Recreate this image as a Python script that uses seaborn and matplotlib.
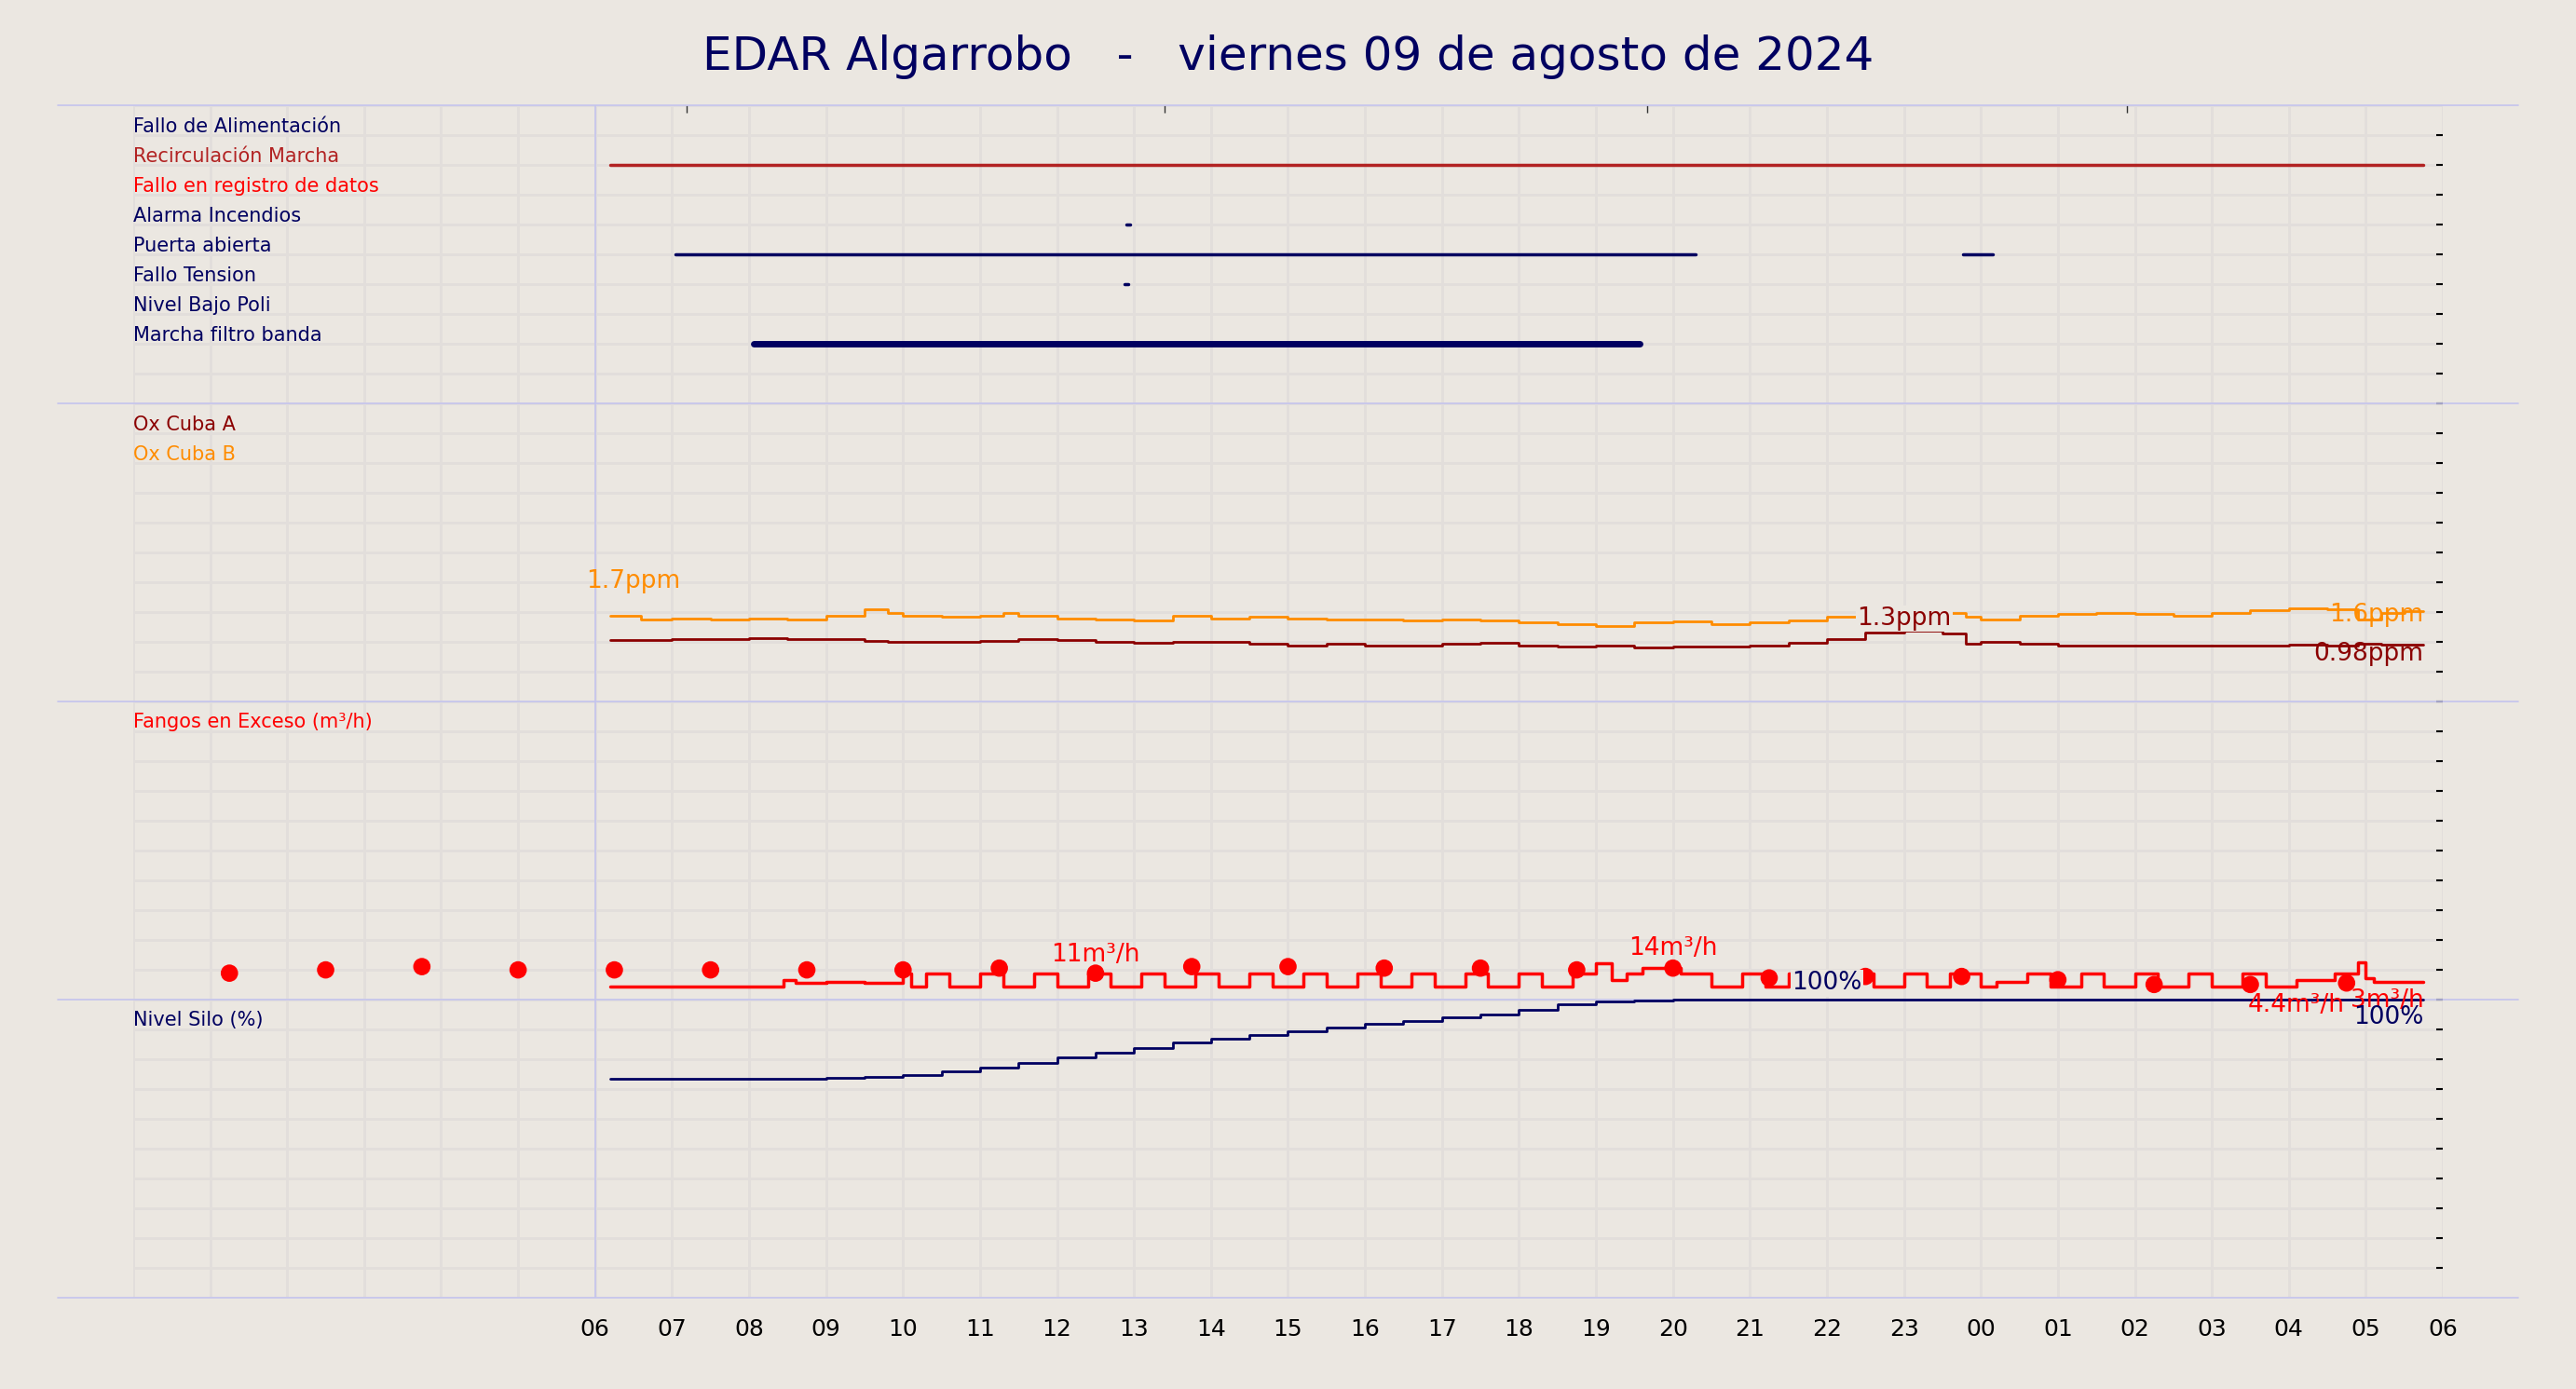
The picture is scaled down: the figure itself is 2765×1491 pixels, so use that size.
import matplotlib
matplotlib.use("Agg")
import matplotlib.pyplot as plt
import seaborn as sns
import pandas as pd

sns.set_theme(style="white")
plt.rcParams['font.family'] = ['DejaVu Sans']

BG = "#ebe7e1"
NAVY = "#000060"
SEP = "#c4c4ee"

title = "EDAR Algarrobo   -   viernes 09 de agosto de 2024"
hour_ticks = list(range(6, 31))
hour_labels = ["%02d" % (h % 24) for h in hour_ticks]

# Panel 1: digital signals
signal_names = ["Fallo de Alimentación", "Recirculación Marcha", "Fallo en registro de datos",
                "Alarma Incendios", "Puerta abierta", "Fallo Tension", "Nivel Bajo Poli",
                "Marcha filtro banda"]
signal_colors = [NAVY, "#b22222", "#ff0000", NAVY, NAVY, NAVY, NAVY, NAVY]
signal_rows = [39, 38, 37, 36, 35, 34, 33, 32]
signal_on = {
    "Recirculación Marcha": [(6.2, 29.75)],
    "Alarma Incendios": [(12.9, 12.95)],
    "Puerta abierta": [(7.04, 20.3), (23.77, 24.16)],
    "Fallo Tension": [(12.88, 12.92)],
    "Marcha filtro banda": [(8.06, 19.57)],
}

# Panel 2: oxygen (ppm)
ox_t = [6.2, 6.6, 7.0, 7.5, 8.0, 8.5, 9.0, 9.5, 9.8, 10.0, 10.5, 11.0, 11.3, 11.5, 12.0, 12.5, 13.0,
        13.5, 14.0, 14.5, 15.0, 15.5, 16.0, 16.5, 17.0, 17.5, 18.0, 18.5, 19.0, 19.5, 20.0, 20.5,
        21.0, 21.5, 22.0, 22.5, 23.0, 23.5, 23.8, 24.0, 24.5, 25.0, 25.5, 26.0, 26.5, 27.0, 27.5,
        28.0, 28.5, 28.9, 29.2, 29.5, 29.75]
ox_b = [1.51, 1.45, 1.47, 1.45, 1.47, 1.45, 1.51, 1.63, 1.57, 1.51, 1.49, 1.51, 1.57, 1.51, 1.47,
        1.45, 1.43, 1.51, 1.47, 1.49, 1.47, 1.45, 1.45, 1.43, 1.45, 1.43, 1.39, 1.36, 1.34, 1.39,
        1.41, 1.37, 1.39, 1.43, 1.49, 1.57, 1.55, 1.57, 1.49, 1.45, 1.51, 1.55, 1.57, 1.55, 1.51,
        1.57, 1.61, 1.65, 1.63, 1.45, 1.57, 1.60, 1.60]
ox_a = [1.08, 1.08, 1.10, 1.10, 1.12, 1.10, 1.10, 1.07, 1.05, 1.05, 1.05, 1.07, 1.07, 1.10, 1.08,
        1.05, 1.04, 1.05, 1.05, 1.02, 0.98, 1.02, 0.99, 0.99, 1.02, 1.04, 0.99, 0.97, 0.98, 0.95,
        0.97, 0.97, 0.99, 1.04, 1.10, 1.22, 1.25, 1.20, 1.02, 1.05, 1.02, 0.98, 0.99, 0.99, 0.98,
        0.99, 0.99, 1.00, 0.98, 1.02, 1.00, 1.00, 1.00]

# Panel 3: fangos en exceso (m3/h)
fangos_t = [6.2, 8.45, 8.6, 9.0, 9.5, 10.0, 10.1, 10.3, 10.6, 11.0, 11.3, 11.7, 12.0, 12.4, 12.7,
            13.1, 13.4, 13.8, 14.1, 14.5, 14.8, 15.2, 15.5, 15.9, 16.2, 16.6, 16.9, 17.3, 17.6,
            18.0, 18.3, 18.7, 19.0, 19.2, 19.4, 19.6, 20.1, 20.5, 20.9, 21.2, 21.5, 21.9, 22.2,
            22.6, 23.0, 23.3, 23.6, 24.0, 24.2, 24.6, 24.9, 25.3, 25.6, 26.0, 26.3, 26.7, 27.0,
            27.4, 27.7, 28.1, 28.4, 28.6, 28.9, 29.0, 29.1, 29.75]
fangos_v = [4.4, 6.6, 5.5, 6.0, 5.5, 8.8, 4.4, 8.8, 4.4, 8.8, 4.4, 8.8, 4.4, 8.8, 4.4,
            8.8, 4.4, 8.8, 4.4, 8.8, 4.4, 8.8, 4.4, 8.8, 4.4, 8.8, 4.4, 8.8, 4.4,
            8.8, 4.4, 8.8, 12.0, 6.6, 8.8, 10.5, 8.8, 4.4, 8.8, 4.4, 8.8, 4.4, 8.8,
            4.4, 8.8, 4.4, 8.8, 4.4, 6.0, 8.8, 4.4, 8.8, 4.4, 8.8, 4.4, 8.8, 4.4,
            8.8, 4.4, 6.6, 6.6, 8.8, 12.5, 7.0, 6.0, 6.0]
dots_t = [1.25, 2.5, 3.75, 5.0, 6.25, 7.5, 8.75, 10.0, 11.25, 12.5, 13.75, 15.0, 16.25, 17.5,
          18.75, 20.0, 21.25, 22.5, 23.75, 25.0, 26.25, 27.5, 28.75]
dots_v = [8.8, 9.9, 11.0, 9.9, 9.9, 9.9, 9.9, 9.9, 10.5, 8.8, 11.0, 11.0, 10.5, 10.5,
          9.9, 10.5, 7.2, 7.7, 7.7, 6.6, 5.0, 5.0, 5.5]

# Panel 4: nivel silo (%)
silo_t = [6.2, 7.0, 8.0, 9.0, 9.5, 10.0, 10.5, 11.0, 11.5, 12.0, 12.5, 13.0, 13.5, 14.0, 14.5,
          15.0, 15.5, 16.0, 16.5, 17.0, 17.5, 18.0, 18.5, 19.0, 19.5, 20.0, 29.75]
silo_v = [73.5, 73.3, 73.4, 73.7, 74.0, 74.5, 75.8, 77.2, 78.8, 80.5, 82.2, 83.8, 85.4, 86.8, 88.2,
          89.4, 90.6, 91.7, 92.8, 93.9, 95.0, 96.5, 98.5, 99.3, 99.6, 100.0, 100.0]

fig = plt.figure(figsize=(27.65, 14.91), dpi=100, facecolor=BG)
ax = fig.add_axes([0.0517, 0.066, 0.8966, 0.858])
ax.set_facecolor(BG)
ax.set_xlim(0, 30)
ax.set_ylim(0, 40)

for h in range(0, 31):
    ax.axvline(h, color="#e2dedb", lw=2, zorder=0)
for y in range(0, 41):
    ax.axhline(y, color="#e2dedb", lw=2, zorder=0)
ax.axvline(6, color=SEP, lw=1.2, zorder=1)
for y in [0, 10, 20, 30, 40]:
    ax.axhline(y, xmin=-0.0327, xmax=1.0327, color=SEP, lw=1.2, clip_on=False, zorder=1)
for s in ax.spines.values():
    s.set_visible(False)

LF = 15
for name, col, row in zip(signal_names, signal_colors, signal_rows):
    ax.text(0.0, row + 0.3, name, color=col, fontsize=LF, va="center", ha="left")
    for (a, b) in signal_on.get(name, []):
        d = pd.DataFrame({"t": [a, b], "y": [row, row]})
        sns.lineplot(data=d, x="t", y="y", ax=ax, color=col,
                     lw=5 if name == "Marcha filtro banda" else 2.5)

K = 1.9
dfo = pd.DataFrame({"t": ox_t, "A": [20 + v * K for v in ox_a], "B": [20 + v * K for v in ox_b]})
sns.lineplot(data=dfo, x="t", y="B", ax=ax, color="#ff8c00", lw=2, drawstyle="steps-post")
sns.lineplot(data=dfo, x="t", y="A", ax=ax, color="#8b0000", lw=2, drawstyle="steps-post")
ax.text(0.0, 29.3, "Ox Cuba A", color="#8b0000", fontsize=LF, va="center")
ax.text(0.0, 28.3, "Ox Cuba B", color="#ff8c00", fontsize=LF, va="center")
bb = dict(facecolor=BG, edgecolor="none", pad=1)
ax.text(6.5, 20 + 1.7 * K + 0.4, "1.7ppm", color="#ff8c00", fontsize=19, ha="center", va="bottom")
ax.text(23.0, 20 + 1.25 * K, "1.3ppm", color="#8b0000", fontsize=19, ha="center", va="bottom", bbox=bb)
ax.text(29.75, 22.5, "1.6ppm", color="#ff8c00", fontsize=19, ha="right", va="bottom")
ax.text(29.75, 21.2, "0.98ppm", color="#8b0000", fontsize=19, ha="right", va="bottom")

dff = pd.DataFrame({"t": fangos_t, "y": [10 + v / 10 for v in fangos_v]})
sns.lineplot(data=dff, x="t", y="y", ax=ax, color="#ff0000", lw=2.5, drawstyle="steps-post")
dfd = pd.DataFrame({"t": dots_t, "y": [10 + v / 10 for v in dots_v]})
sns.scatterplot(data=dfd, x="t", y="y", ax=ax, color="#ff0000", s=180, edgecolor="none", zorder=4)
ax.text(0.0, 19.3, "Fangos en Exceso (m³/h)", color="#ff0000", fontsize=LF, va="center")
ax.text(12.5, 11.1, "11m³/h", color="#ff0000", fontsize=19, ha="center", va="bottom")
ax.text(20.0, 11.3, "14m³/h", color="#ff0000", fontsize=19, ha="center", va="bottom")
ax.text(28.1, 9.8, "4.4m³/h", color="#ff0000", fontsize=19, ha="center", va="center")
ax.text(29.75, 9.97, "3m³/h", color="#ff0000", fontsize=19, ha="right", va="center")

dfs = pd.DataFrame({"t": silo_t, "y": [v / 10 for v in silo_v]})
sns.lineplot(data=dfs, x="t", y="y", ax=ax, color=NAVY, lw=2, drawstyle="steps-post", zorder=2)
ax.text(0.0, 9.3, "Nivel Silo (%)", color=NAVY, fontsize=LF, va="center")
ax.text(22.0, 10.55, "100%", color=NAVY, fontsize=19, ha="center", va="center", bbox=bb, zorder=5)
ax.text(29.75, 9.4, "100%", color=NAVY, fontsize=19, ha="right", va="center")

ax.set_xlabel("")
ax.set_ylabel("")
ax.set_xticks(hour_ticks)
ax.set_xticklabels(hour_labels, fontsize=18, color="black")
ax.tick_params(axis="x", length=0, pad=16)
ax.set_yticks(range(1, 40))
ax.set_yticklabels([])
ax.tick_params(axis="y", which="major", right=True, left=False, direction="in", length=5,
               width=1.5, color="black")
ax.set_xticks([7.19, 13.4, 19.66, 25.9], minor=True)
ax.tick_params(axis="x", which="minor", top=True, bottom=False, direction="in", length=6,
               width=1, color="#333333")

fig.suptitle(title, fontsize=36, color=NAVY, y=0.975)
fig.savefig("out.png", dpi=100, facecolor=BG)
